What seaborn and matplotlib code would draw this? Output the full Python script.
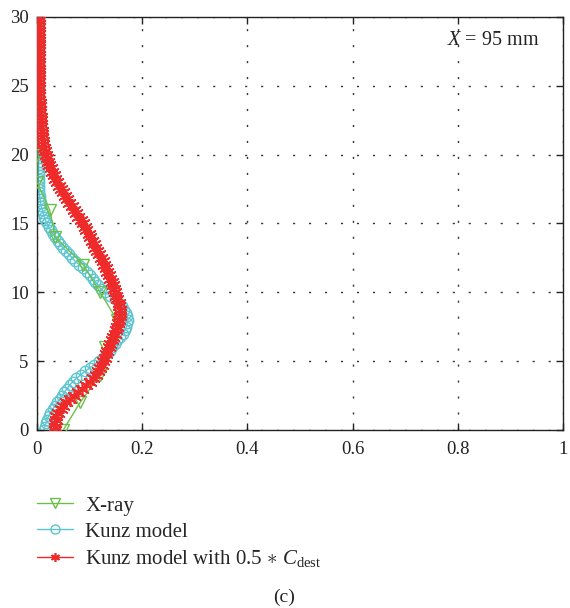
import numpy as np
import pandas as pd
import matplotlib
matplotlib.use("Agg")
import matplotlib.pyplot as plt
import seaborn as sns

# ---- data ----
xray_depth = [0, 2, 4, 6, 8, 10, 12, 14, 16, 18, 20, 22, 24, 26, 28, 30]
xray_conc = [0.05, 0.082, 0.12, 0.13, 0.152, 0.12, 0.088, 0.035, 0.024, 0.0,
             0.0, 0.0, 0.0, 0.0, 0.0, 0.0]

model_depth = [i * 0.25 for i in range(121)]
kunz_conc = [
    0.013, 0.015, 0.017, 0.019, 0.022, 0.025, 0.030, 0.034, 0.038, 0.043,
    0.048, 0.052, 0.057, 0.062, 0.068, 0.075, 0.083, 0.091, 0.100, 0.109,
    0.118, 0.125, 0.132, 0.138, 0.143, 0.148, 0.153, 0.158, 0.163, 0.167,
    0.170, 0.172, 0.173, 0.172, 0.170, 0.166, 0.161, 0.155, 0.148, 0.139,
    0.129, 0.121, 0.116, 0.111, 0.106, 0.101, 0.095, 0.088, 0.080, 0.073,
    0.067, 0.061, 0.055, 0.049, 0.044, 0.039, 0.034, 0.030, 0.026, 0.022,
    0.019, 0.016, 0.014, 0.012, 0.010, 0.008, 0.007, 0.006, 0.005, 0.004,
    0.004, 0.003, 0.003, 0.003, 0.003, 0.003, 0.003, 0.003, 0.003, 0.003,
    0.003, 0.003, 0.003, 0.003, 0.003, 0.003, 0.003, 0.003, 0.003, 0.003,
    0.003, 0.003, 0.003, 0.003, 0.003, 0.003, 0.003, 0.003, 0.003, 0.003,
    0.003, 0.003, 0.003, 0.003, 0.003, 0.003, 0.003, 0.003, 0.003, 0.003,
    0.003, 0.003, 0.003, 0.003, 0.003, 0.003, 0.003, 0.003, 0.003, 0.003,
    0.003]
kunz_half_conc = [
    0.034, 0.034, 0.035, 0.036, 0.037, 0.040, 0.045, 0.050, 0.055, 0.062,
    0.070, 0.078, 0.086, 0.093, 0.100, 0.106, 0.112, 0.116, 0.120, 0.123,
    0.126, 0.129, 0.131, 0.134, 0.136, 0.139, 0.142, 0.145, 0.148, 0.150,
    0.152, 0.154, 0.156, 0.157, 0.157, 0.157, 0.156, 0.155, 0.153, 0.151,
    0.149, 0.147, 0.145, 0.142, 0.139, 0.137, 0.134, 0.131, 0.128, 0.125,
    0.121, 0.118, 0.114, 0.111, 0.108, 0.105, 0.101, 0.098, 0.094, 0.091,
    0.087, 0.083, 0.078, 0.074, 0.070, 0.066, 0.061, 0.057, 0.053, 0.049,
    0.045, 0.041, 0.038, 0.035, 0.032, 0.029, 0.026, 0.023, 0.021, 0.019,
    0.017, 0.015, 0.014, 0.012, 0.011, 0.010, 0.009, 0.009, 0.008, 0.008,
    0.007, 0.007, 0.006, 0.006, 0.005, 0.005, 0.004, 0.004, 0.004, 0.004,
    0.004, 0.004, 0.004, 0.004, 0.004, 0.004, 0.004, 0.004, 0.004, 0.004,
    0.004, 0.004, 0.004, 0.004, 0.004, 0.004, 0.004, 0.004, 0.004, 0.004,
    0.004]

labels = ["X-ray", "Kunz model", r"Kunz model with 0.5 $\ast$ $C_{\mathrm{dest}}$"]
x_ticks = [0, 0.2, 0.4, 0.6, 0.8, 1]
x_ticklabels = ["0", "0.2", "0.4", "0.6", "0.8", "1"]
y_ticks = [0, 5, 10, 15, 20, 25, 30]
annotation = r"$X$ = 95 mm"
caption = "(c)"

# ---- style ----
sns.set_style("ticks")
plt.rcParams["font.family"] = ["Liberation Serif", "DejaVu Serif"]
plt.rcParams["mathtext.fontset"] = "custom"
plt.rcParams["mathtext.rm"] = "Liberation Serif"
plt.rcParams["mathtext.it"] = "Liberation Serif:italic"

fig = plt.figure(figsize=(5.70, 6.08), dpi=100)
ax = fig.add_axes([0.0649, 0.2928, 0.9228, 0.6793])

green = "#6cc04a"
cyan = "#5cc5d0"
red = "#ee2a2a"

df_x = pd.DataFrame({"c": xray_conc, "z": xray_depth})
df_k = pd.DataFrame({"c": kunz_conc, "z": model_depth})
df_h = pd.DataFrame({"c": kunz_half_conc, "z": model_depth})

sns.lineplot(data=df_x, x="c", y="z", sort=False, estimator=None, ax=ax,
             color=green, lw=1.0, marker="v", markersize=8,
             markerfacecolor="none", markeredgecolor=green, markeredgewidth=1.0,
             label=labels[0], zorder=3)
sns.lineplot(data=df_k, x="c", y="z", sort=False, estimator=None, ax=ax,
             color=cyan, lw=1.0, marker="o", markersize=7.5,
             markerfacecolor="none", markeredgecolor=cyan, markeredgewidth=1.0,
             label=labels[1], zorder=2)
sns.lineplot(data=df_h, x="c", y="z", sort=False, estimator=None, ax=ax,
             color=red, lw=1.0, marker=(6, 2, 0), markersize=10.5,
             markeredgecolor=red, markeredgewidth=1.2,
             label=labels[2], zorder=4)

ax.set_xlim(0, 1)
ax.set_ylim(0, 30)
ax.set_xticks(x_ticks)
ax.set_xticklabels(x_ticklabels)
ax.set_yticks(y_ticks)
ax.set_xlabel("")
ax.set_ylabel("")
ax.tick_params(direction="in", length=5, width=1, top=True, right=True,
               labelsize=13.5, colors="#222222")
ax.tick_params(axis="x", pad=8)
ax.tick_params(axis="y", pad=6)
for s in ax.spines.values():
    s.set_visible(True)
    s.set_linewidth(1.0)
    s.set_color("#222222")
ax.grid(True, color="#333333", linestyle=(0, (1.5, 10)), linewidth=1.0)

ax.text(0.78, 0.944, annotation, transform=ax.transAxes, fontsize=14.5,
        ha="left", va="center", color="#222222")

leg = ax.legend(loc="upper left", bbox_to_anchor=(-0.015, -0.140), frameon=False,
                fontsize=15, handlelength=1.7, handletextpad=0.6,
                labelspacing=0.3, borderaxespad=0)
for h in leg.legend_handles:
    h.set_markersize(6.5)
fig.text(0.498, 0.017, caption, ha="center", va="center", fontsize=14,
         color="#222222")

fig.savefig("out.png", dpi=100)
